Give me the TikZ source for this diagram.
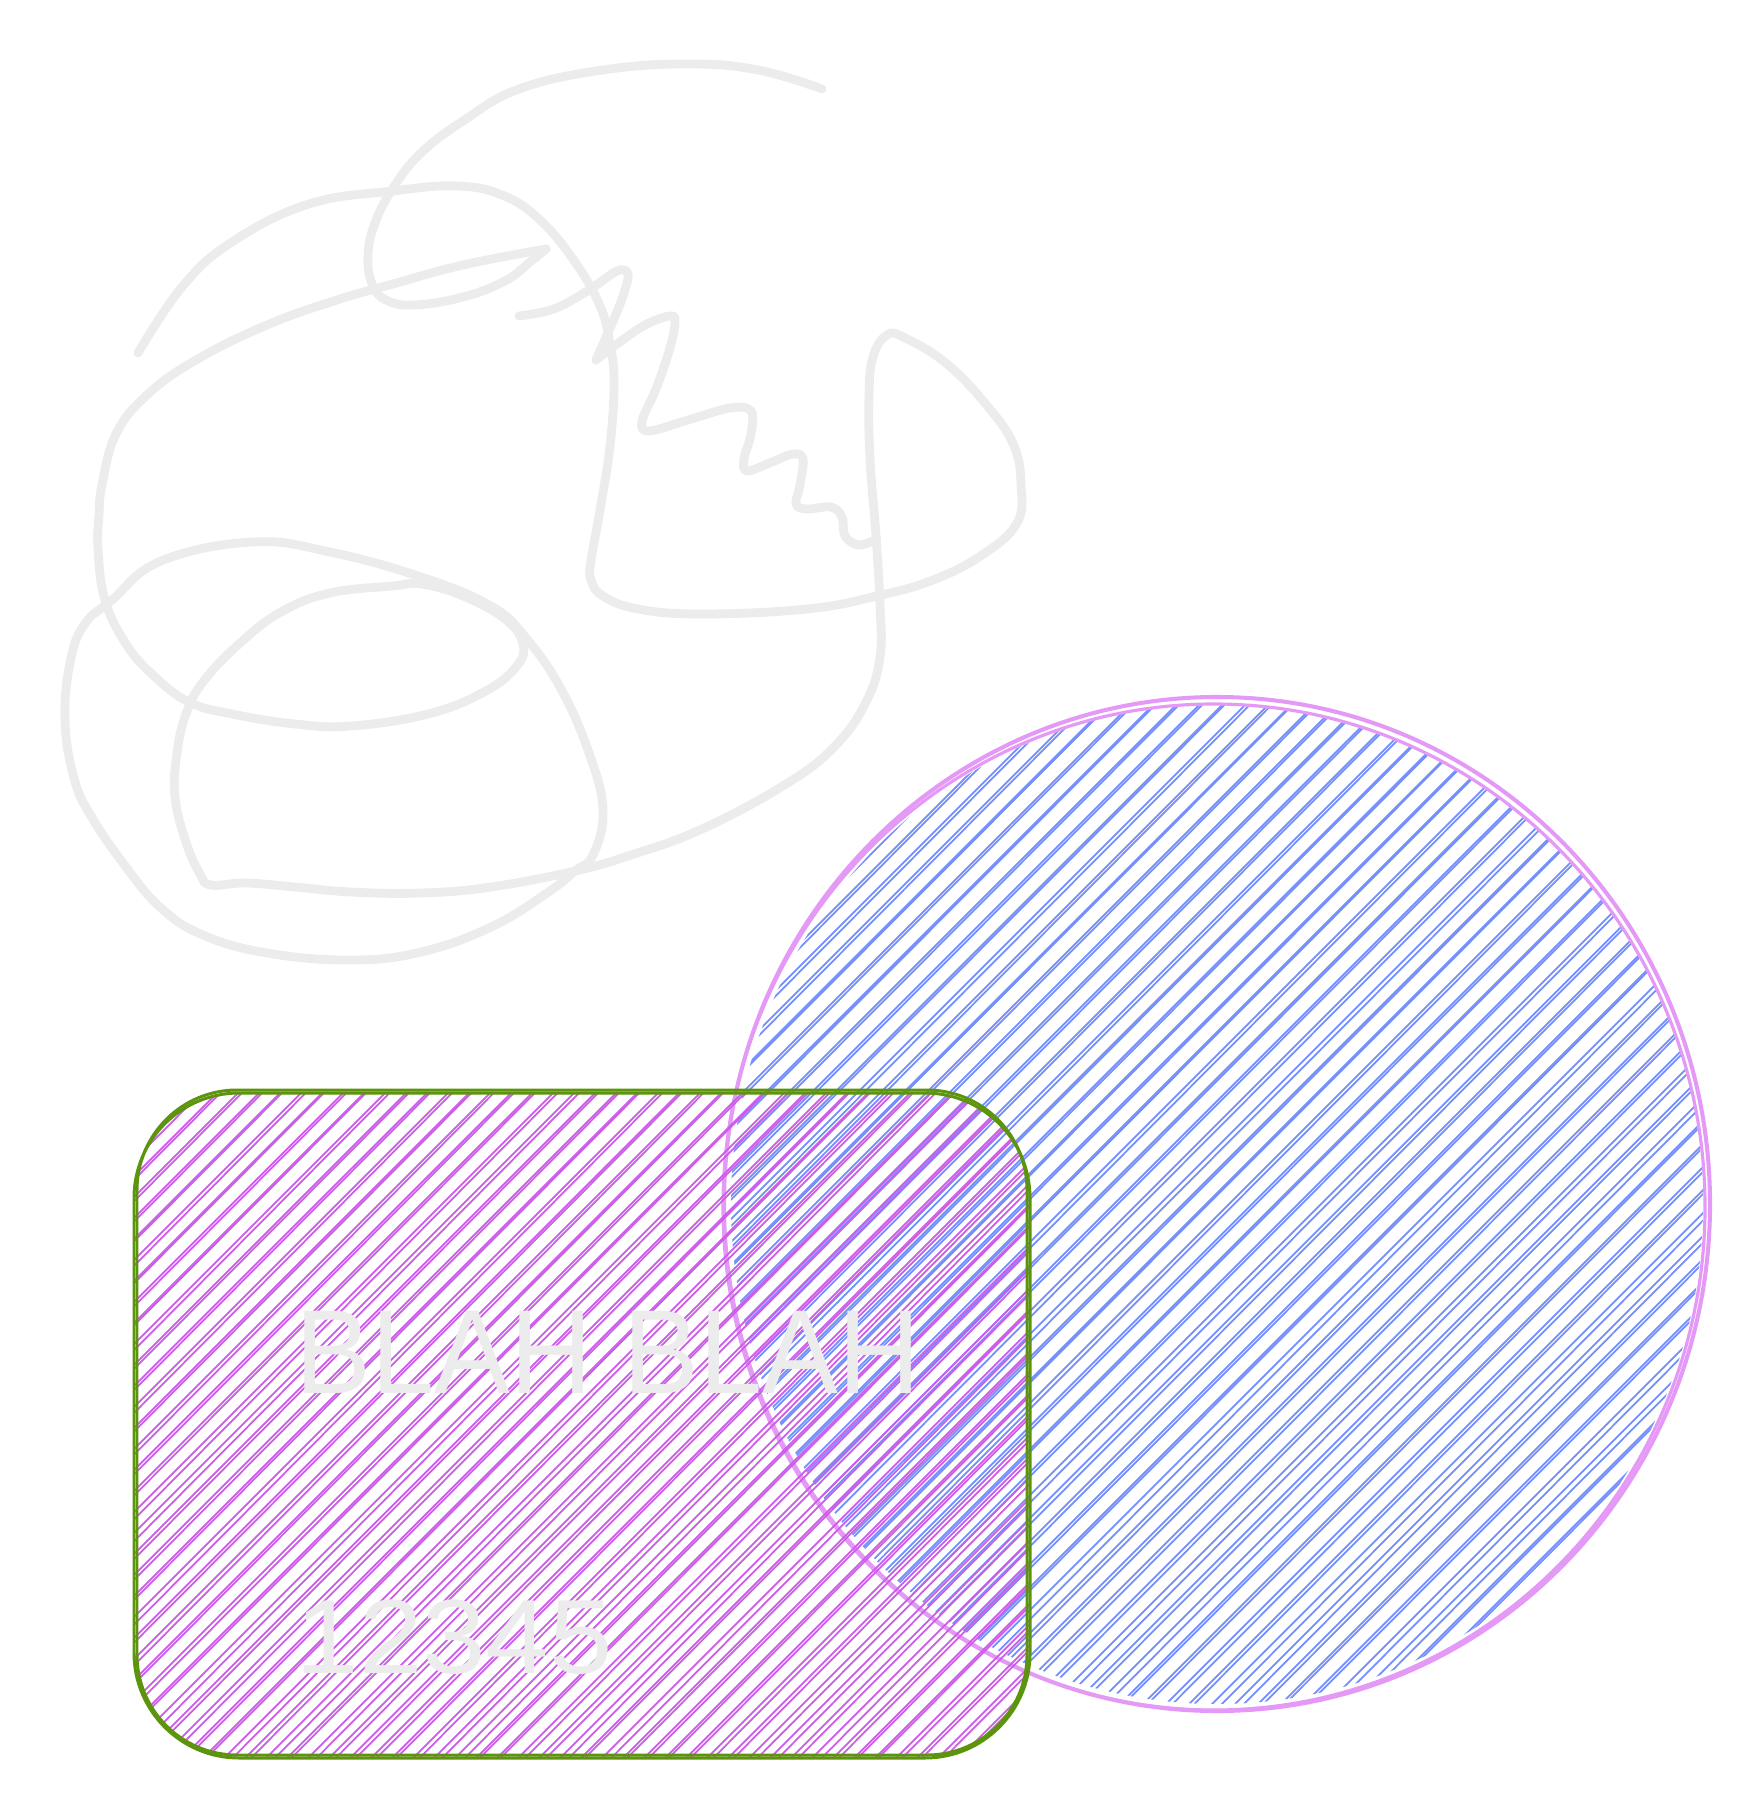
\documentclass[tikz,border=0pt]{standalone}
\usepackage{fontspec}
\setmainfont{Liberation Sans}
\definecolor{inkgray}{HTML}{ECECEC}
\definecolor{circline}{HTML}{E599F7}
\definecolor{circhatch}{HTML}{748FFC}
\definecolor{boxline}{HTML}{5C940D}
\definecolor{boxhatch}{HTML}{CC5DE8}
\tikzset{
  scribble/.style={draw=inkgray, line width=2.5pt, line cap=round, line join=round},
  outline/.style={line width=0.85pt},
  hatch/.style={line width=0.5pt},
  label/.style={text=inkgray, inner sep=0pt, anchor=base west}
}
\begin{document}
\begin{tikzpicture}[x=0.01cm, y=-0.01cm]
  \fill[white] (0,0) rectangle (1746,1798);
  \useasboundingbox (0,0) rectangle (1746,1798);
  \pgfmathsetseed{42}

  % scribble
  \draw[scribble] plot[smooth, tension=0.7] coordinates {
    (138,353) (182,287) (232,242) (309,204) (393,191) (456,186) (502,195) (540,220)
    (575,262) (600,306) (610,344) (614,383) (610,446) (600,510) (591,561) (591,580)
    (603,596) (638,609) (702,614) (807,609) (877,596) (933,580) (982,555) (1017,523)
    (1021,485) (1014,446) (989,408) (947,364) (905,338) (887,335) (873,357) (869,395)
    (870,459) (876,536) (880,606) (880,657) (866,702) (835,746) (786,784) (702,829)
    (631,855) (575,871) (491,887) (421,893) (351,892) (295,887) (246,883) (211,885)
    (200,874) (186,842) (175,797) (177,753) (186,714) (203,682) (239,644) (281,612)
    (330,593) (393,586) (421,584) (463,596) (505,619) (523,644) (516,667) (484,692)
    (428,714) (351,726) (295,724) (232,714) (189,702) (154,676) (126,644) (105,600)
    (98,549) (99,515) (102,485) (116,434) (147,395) (196,360) (267,325) (337,300) (393,284)
    (463,265) (546,249)};
  \draw[scribble] plot[smooth, tension=0.7] coordinates {
    (546,249) (530,262) (505,281) (463,297) (414,305) (386,300) (372,284) (368,255)
    (375,223) (393,188) (421,153) (463,121) (519,89) (603,70) (688,64) (758,70) (822,89)};
  \draw[scribble] plot[smooth cycle, tension=0.7] coordinates {
    (112,600) (161,561) (253,542) (330,552) (421,577) (491,606) (526,638) (561,689)
    (589,753) (603,810) (593,855) (575,871) (547,893) (491,927) (421,952) (351,960)
    (267,953) (203,935) (161,908) (126,867) (91,816) (74,778) (65,721) (70,663) (84,625)};
  \draw[scribble] plot[smooth, tension=0.6] coordinates {
    (519,316) (554,309) (589,290) (617,271) (628,274) (624,293) (614,319) (603,344) (596,360)};
  \draw[scribble] plot[smooth, tension=0.6] coordinates {
    (596,360) (617,344) (645,325) (670,316) (675,322) (670,348) (656,389) (642,421)
    (649,431) (688,420) (730,408) (751,411) (751,434) (744,459) (747,471) (772,462)
    (793,454) (803,459) (800,485) (796,504) (807,509) (831,507) (842,517) (845,536)
    (859,545) (877,539)};

  % circle
  \begin{scope}
    \clip (1217,1204) ellipse [x radius=486, y radius=500];
    \foreach \a in {-290,-267,...,1710} {
      \pgfmathsetmacro\d{3+7*rnd}
      \draw[hatch, circhatch] (\a,1711) -- ++(1014,-1014);
      \draw[hatch, circhatch] (\a+\d,1711) -- ++(1014-\d/2,-1014);
    }
  \end{scope}
  \draw[circline, line width=1.15pt] (1217,1204) ellipse [x radius=493, y radius=507];
  \draw[circline, line width=0.9pt] (1214,1207) ellipse [x radius=491, y radius=503];

  % rounded box
  \begin{scope}
    \clip[rounded corners=1.05cm] (134,1093) rectangle (1030,1758);
    \foreach \a in {-532,-511,...,1030} {
      \pgfmathsetmacro\d{3+7*rnd}
      \draw[hatch, boxhatch] (\a,1758) -- ++(666,-666);
      \draw[hatch, boxhatch] (\a+\d,1758) -- ++(666-\d/2,-666);
    }
  \end{scope}
  \draw[outline, boxline, rounded corners=1.05cm] (134,1093) rectangle (1030,1758);
  \draw[outline, boxline, rounded corners=1.0cm] (137,1090) rectangle (1027,1755);

  \node (blah) [label, xscale=0.95] at (295,1393) {\fontsize{34}{40}\selectfont BLAH BLAH};
  \node (digits) [label, xscale=1.08] at (295,1673) {\fontsize{30}{36}\selectfont 12345};
\end{tikzpicture}
\end{document}
